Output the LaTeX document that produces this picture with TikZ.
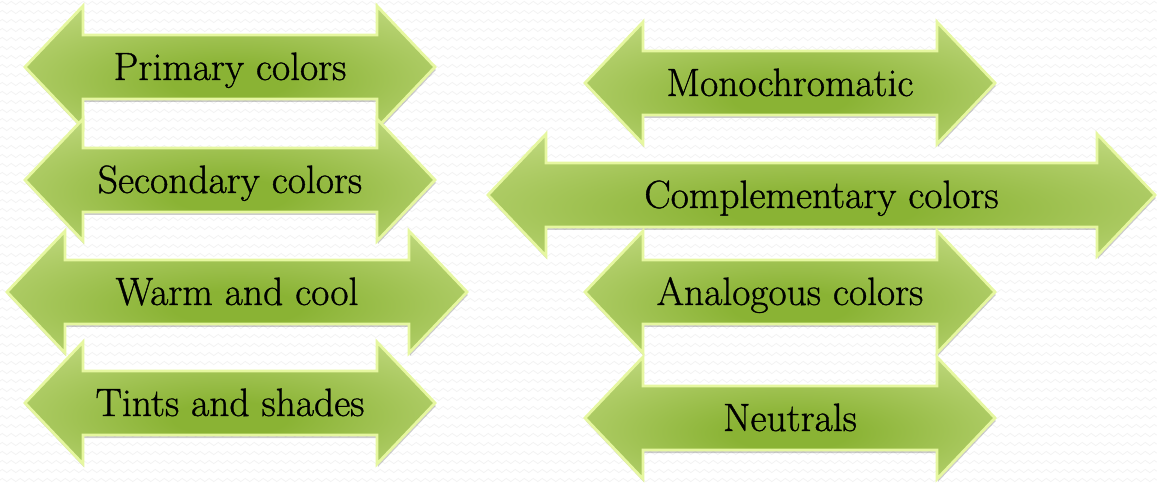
\documentclass[tikz,border=0pt]{standalone}
\usepackage{fontspec}
\newfontfamily\lblfont{Latin Modern Roman}[FakeBold=0.9]
\usetikzlibrary{shadows,decorations.pathmorphing}
\definecolor{gdark}{RGB}{138,179,52}
\definecolor{gmid}{RGB}{180,208,110}
\definecolor{glight}{RGB}{213,233,162}
\definecolor{gborder}{RGB}{230,247,160}
\pgfdeclareradialshading{greenarrow}{\pgfpoint{0bp}{-7bp}}{%
  color(0bp)=(gdark); color(7bp)=(gdark); color(29bp)=(gmid);
  color(47bp)=(glight); color(80bp)=(glight)}
\tikzset{
  arrowbody/.style={shade, shading=greenarrow, draw=gborder, line width=2.8pt,
    line join=miter,
    drop shadow={shadow xshift=0.8pt, shadow yshift=-3pt, opacity=0.2, fill=black}},
  arrowlabel/.style={anchor=base, inner sep=0pt, font=\lblfont\fontsize{39.5}{43}\selectfont, text=black},
  bgzig/.style={draw=black!5, line width=0.7pt, decorate,
    decoration={zigzag, segment length=9pt, amplitude=1.6pt}}
}
% #1 name, #2 left tip x, #3 right tip x, #4 centre y, #5 text
\newcommand\dblgreenarrow[5]{%
  \path[arrowbody] (#2,#4) -- ++(58,-61) -- ++(0,29) -- (#3-58,#4-32) -- ++(0,-29)
    -- (#3,#4) -- ++(-58,61) -- ++(0,-29) -- (#2+58,#4+32) -- ++(0,29) -- cycle;
  \node[arrowlabel] (#1) at ({(#2+#3)/2},#4+13) {#5};
}
\begin{document}
\begin{tikzpicture}[x=1pt,y=-1pt]
  \useasboundingbox (0,0) rectangle (1157,486);
  \fill[white] (0,0) rectangle (1157,486);
  \foreach \r in {0,...,54} {
    \path[bgzig] (0,\r*9+3) -- (1157,\r*9+3);
  }
  \dblgreenarrow{primary}{25}{435}{67}{Primary colors}
  \dblgreenarrow{secondary}{25}{435}{180}{Secondary colors}
  \dblgreenarrow{warm}{7}{467}{292}{Warm and cool}
  \dblgreenarrow{tints}{25}{435}{403}{Tints and shades}
  \dblgreenarrow{mono}{585}{995}{83}{Monochromatic}
  \dblgreenarrow{complementary}{488}{1155}{195}{Complementary colors}
  \dblgreenarrow{analogous}{585}{995}{292}{Analogous colors}
  \dblgreenarrow{neutrals}{585}{995}{418}{Neutrals}
\end{tikzpicture}
\end{document}
